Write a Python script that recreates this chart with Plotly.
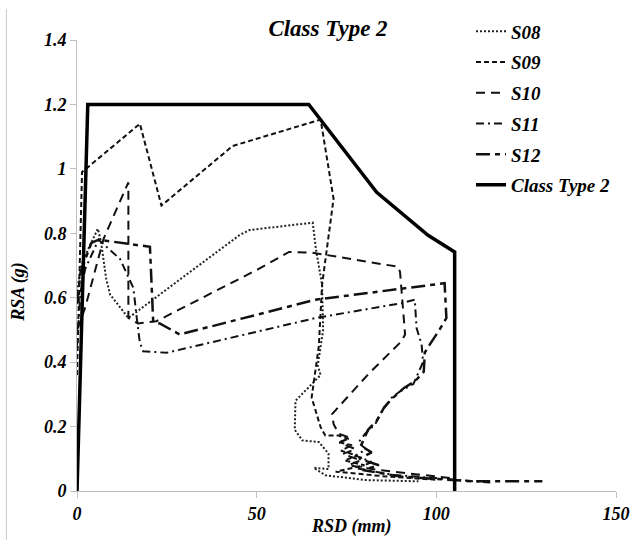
import plotly.graph_objects as go

# ---------------- data ----------------
ct2_x = [0, 3, 64.5, 83.4, 97.7, 105.1, 105.1]
ct2_y = [0, 1.2, 1.2, 0.927, 0.794, 0.742, 0]

s08_x = [0, 1.2, 3.5, 5.8, 6.7, 8.1, 9.2, 14.3, 30, 45.2, 48, 65.6, 66.5, 68.2, 68.5, 67.0, 67.8,
         60.8, 60.6, 62.7, 67.3, 70.0, 70.0, 65.9, 69.1, 72.8, 80.2, 95.0]
s08_y = [0.62, 0.70, 0.76, 0.814, 0.773, 0.66, 0.61, 0.537, 0.668, 0.794, 0.81, 0.833, 0.75, 0.64, 0.5,
         0.39, 0.36, 0.28, 0.19, 0.157, 0.152, 0.116, 0.068, 0.072, 0.049, 0.044, 0.034, 0.03]

s09_x = [0, 1.4, 17.5, 23.5, 43.3, 67.8, 71.4, 68.2, 67.3, 65.3, 67.8, 69.1, 72.8, 75.6, 72.8, 76.5,
         73.5, 78.0, 74.5, 80.0, 72.0, 86.0, 100.0]
s09_y = [0.36, 0.99, 1.14, 0.886, 1.071, 1.153, 0.907, 0.64, 0.45, 0.29, 0.198, 0.172, 0.172, 0.162,
         0.152, 0.142, 0.125, 0.11, 0.095, 0.08, 0.06, 0.045, 0.035]

s10_x = [0, 2.3, 7.4, 14.3, 14.3, 17.0, 22.1, 50.7, 59.0, 65.4, 89.4, 89.9, 91.3, 90.3, 81.1, 71.0,
         71.4, 72.8, 76.0, 73.0, 77.5, 74.0, 79.0, 75.5, 84.0, 95.0, 104.0]
s10_y = [0.5, 0.57, 0.783, 0.958, 0.537, 0.52, 0.527, 0.69, 0.742, 0.74, 0.696, 0.68, 0.486, 0.465,
         0.363, 0.239, 0.208, 0.178, 0.165, 0.15, 0.13, 0.115, 0.095, 0.08, 0.065, 0.05, 0.04]

s11_x = [0, 1.0, 2.3, 6.0, 12.0, 15.7, 16.6, 17.5, 18.4, 24.9, 66.4, 90.3, 94.0, 94.5, 95.9, 96.3,
         93.6, 90.0, 87.6, 85.0, 83.0, 80.2, 78.3, 80.5, 77.5, 82.0, 78.0, 88.0, 100.0, 115.0]
s11_y = [0.45, 0.62, 0.69, 0.78, 0.72, 0.63, 0.54, 0.46, 0.434, 0.429, 0.537, 0.583, 0.594, 0.506,
         0.455, 0.4, 0.332, 0.31, 0.29, 0.25, 0.208, 0.178, 0.15, 0.13, 0.11, 0.09, 0.07, 0.05, 0.04, 0.026]

s12_x = [0, 1.0, 4.0, 6.0, 20.3, 20.8, 21.2, 23.0, 28.6, 66.4, 102.3, 102.8, 100.9, 98.2, 96.8, 96.5,
         94.0, 91.0, 88.0, 85.5, 83.5, 81.0, 79.0, 82.0, 78.5, 84.0, 79.5, 90.0, 104.0, 110.0, 129.5]
s12_y = [0.58, 0.68, 0.77, 0.78, 0.758, 0.62, 0.527, 0.52, 0.486, 0.594, 0.645, 0.537, 0.501, 0.455,
         0.43, 0.37, 0.34, 0.32, 0.29, 0.26, 0.22, 0.19, 0.14, 0.12, 0.10, 0.08, 0.065, 0.045, 0.035,
         0.03, 0.03]

x_ticks = [0, 50, 100, 150]
y_ticks = [0, 0.2, 0.4, 0.6, 0.8, 1.0, 1.2, 1.4]
y_ticklabels = ["0", "0.2", "0.4", "0.6", "0.8", "1", "1.2", "1.4"]

# ---------------- figure ----------------
FONT = "Liberation Serif, Times New Roman, serif"
fig = go.Figure()

series = [
    ("S08", s08_x, s08_y, dict(color="#222", width=2, dash="2px,2px")),
    ("S09", s09_x, s09_y, dict(color="#111", width=2, dash="5px,3px")),
    ("S10", s10_x, s10_y, dict(color="#111", width=2, dash="9px,6px")),
    ("S11", s11_x, s11_y, dict(color="#111", width=2, dash="8px,4px,2px,4px")),
    ("S12", s12_x, s12_y, dict(color="#111", width=2.5, dash="14px,5px,5px,5px")),
    ("Class Type 2", ct2_x, ct2_y, dict(color="#000", width=3.5)),
]
for i, (name, xs, ys, ln) in enumerate(series):
    fig.add_trace(go.Scatter(x=xs, y=ys, mode="lines", name=name, line=ln,
                             legendgroup=f"g{i}", hoverinfo="skip"))

axis_common = dict(
    showgrid=False, zeroline=False, showline=True, linecolor="#bfbfbf", linewidth=1,
    ticks="outside", ticklen=6, tickcolor="#bfbfbf", tickwidth=1,
    tickfont=dict(family=FONT, size=18, color="#000", weight="bold", style="italic"),
)
fig.update_xaxes(range=[0, 150], tickvals=x_ticks, **axis_common)
fig.update_yaxes(range=[0, 1.4], tickvals=y_ticks, ticktext=y_ticklabels, **axis_common)

fig.update_layout(
    width=642, height=540,
    margin=dict(l=77, r=23, t=37, b=49),
    paper_bgcolor="white", plot_bgcolor="white",
    title=dict(text="Class Type 2", x=328 / 642, xanchor="center", xref="container",
               y=1 - 28 / 540, yanchor="middle", yref="container",
               font=dict(family=FONT, size=23, color="#000", weight="bold", style="italic")),
    legend=dict(x=0.731, y=1.061, xanchor="left", yanchor="top",
                font=dict(family=FONT, size=19, color="#000", weight="bold", style="italic"),
                bgcolor="rgba(0,0,0,0)", tracegroupgap=3, itemwidth=30),
    showlegend=True,
)

fig.add_annotation(text="RSD (mm)", xref="paper", yref="paper", x=(353 - 77) / 542,
                   y=-(527 - 491) / 454, xanchor="center", yanchor="middle", showarrow=False,
                   font=dict(family=FONT, size=18, color="#000", weight="bold", style="italic"))
fig.add_annotation(text="RSA (g)", xref="paper", yref="paper", x=(18 - 77) / 542,
                   y=(491 - 290) / 454, xanchor="center", yanchor="middle", showarrow=False,
                   textangle=-90,
                   font=dict(family=FONT, size=18, color="#000", weight="bold", style="italic"))
fig.add_shape(type="line", xref="paper", yref="paper", x0=(6 - 77) / 542, x1=(6 - 77) / 542,
              y0=(491 - 540) / 454, y1=(491 - 6) / 454, line=dict(color="#c8c8c8", width=1))

fig.write_html("out.html")
